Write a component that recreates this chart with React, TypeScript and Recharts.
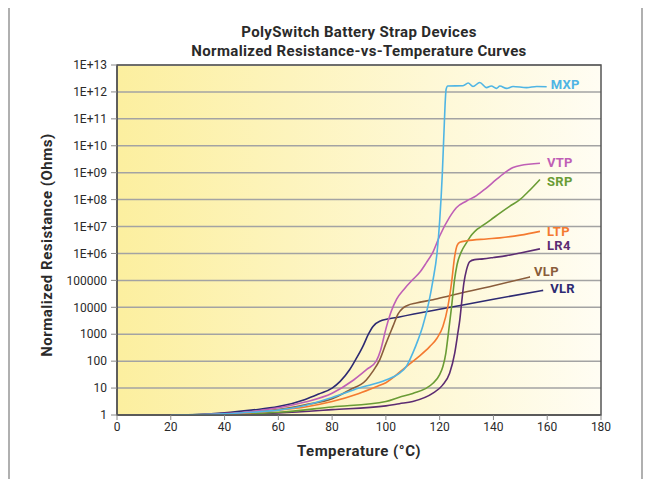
import { LineChart, Line, XAxis, YAxis, CartesianGrid, ReferenceArea } from 'recharts';

// temperature (°C) and log10 of normalized resistance
const mxpTemp = [20, 40, 50, 60, 70, 80, 90, 100, 105, 107.6, 110, 112, 113.7, 116, 117.5, 119, 120, 121, 121.6, 122, 122.4, 123, 128.7, 130.6, 132.4, 134.9, 137.4, 139.2, 141.1, 142.4, 144.9, 147.3, 152.3, 156.1, 159.8];
const mxpExp = [0, 0.04, 0.1, 0.18, 0.35, 0.65, 1.0, 1.3, 1.55, 1.8, 2.3, 2.8, 3.3, 4.2, 5.0, 6.0, 7.2, 9.0, 10.5, 11.5, 12.1, 12.22, 12.23, 12.33, 12.2, 12.35, 12.16, 12.22, 12.13, 12.22, 12.13, 12.2, 12.16, 12.2, 12.19];

const vtpTemp = [20, 30, 40, 50, 60, 70, 80, 88, 93, 96.4, 98, 100, 102, 104, 107, 110, 112.6, 115, 117.5, 120, 123.7, 126.2, 130, 133.7, 137, 141.1, 144.9, 147.3, 150, 157.3];
const vtpExp = [0, 0.01, 0.05, 0.13, 0.27, 0.48, 0.81, 1.3, 1.7, 2.0, 2.4, 3.2, 3.85, 4.3, 4.7, 5.03, 5.3, 5.65, 6.05, 6.65, 7.35, 7.7, 7.95, 8.15, 8.4, 8.75, 9.05, 9.19, 9.27, 9.35];

const srpTemp = [20, 40, 60, 80, 100, 105, 110, 117.5, 120, 121.2, 122.3, 123.1, 124.4, 125.5, 126.5, 128, 130, 132, 134, 136.2, 139, 142.4, 146, 149.8, 153, 157.3];
const srpExp = [0, 0.02, 0.1, 0.3, 0.5, 0.66, 0.8, 1.18, 1.5, 1.8, 2.3, 2.92, 4.0, 5.0, 5.6, 6.05, 6.4, 6.7, 6.9, 7.05, 7.25, 7.5, 7.75, 8.0, 8.3, 8.75];

const ltpTemp = [20, 40, 50, 60, 70, 80, 90, 96.4, 100, 107.6, 112, 116.3, 119, 121.2, 123, 124.4, 125.6, 126.5, 127.5, 130, 137.4, 142.4, 150, 157.3];
const ltpExp = [0, 0.03, 0.09, 0.18, 0.3, 0.5, 0.8, 1.05, 1.2, 1.8, 2.15, 2.54, 2.85, 3.29, 4.0, 4.9, 5.9, 6.3, 6.42, 6.47, 6.54, 6.58, 6.68, 6.82];

const lr4Temp = [20, 40, 60, 80, 100, 105, 110, 117.5, 121, 123.7, 125.6, 126.7, 127.5, 128.2, 129, 130, 131.2, 133, 136.2, 140, 144.9, 150, 157.3];
const lr4Exp = [0, 0.02, 0.08, 0.2, 0.34, 0.42, 0.5, 0.81, 1.1, 1.55, 2.3, 3.0, 3.54, 4.2, 4.9, 5.4, 5.7, 5.77, 5.8, 5.85, 5.92, 6.02, 6.17];

const vlpTemp = [20, 40, 50, 60, 70, 80, 86.5, 92.7, 95, 97.7, 100, 102.6, 104.5, 106.3, 108, 111.3, 117.5, 123.7, 140, 153.6];
const vlpExp = [0, 0.04, 0.1, 0.2, 0.38, 0.6, 0.93, 1.3, 1.6, 2.05, 2.65, 3.29, 3.75, 3.97, 4.07, 4.16, 4.28, 4.43, 4.8, 5.13];

const vlrTemp = [20, 30, 40, 50, 60, 70, 75, 80, 83, 86.5, 89, 91.4, 93.5, 95.2, 97.7, 105, 124, 140, 158.5];
const vlrExp = [0, 0.02, 0.08, 0.18, 0.31, 0.58, 0.78, 1.0, 1.25, 1.68, 2.1, 2.54, 3.0, 3.29, 3.48, 3.64, 4.0, 4.3, 4.63];

const xTicks = [0, 20, 40, 60, 80, 100, 120, 140, 160, 180];
const yExps = [0, 1, 2, 3, 4, 5, 6, 7, 8, 9, 10, 11, 12, 13];

const toPoints = (temps: number[], exps: number[]) =>
  temps.map((t, i) => ({ t, r: Math.pow(10, exps[i]) }));

const SERIES = [
  { name: 'VLR', color: '#2d2a72', data: toPoints(vlrTemp, vlrExp), dx: 7, dy: -2 },
  { name: 'VLP', color: '#8a5d3b', data: toPoints(vlpTemp, vlpExp), dx: 4, dy: -5 },
  { name: 'LR4', color: '#5c2c72', data: toPoints(lr4Temp, lr4Exp), dx: 7, dy: -3 },
  { name: 'SRP', color: '#6a9c35', data: toPoints(srpTemp, srpExp), dx: 7, dy: 2 },
  { name: 'LTP', color: '#f47a30', data: toPoints(ltpTemp, ltpExp), dx: 7, dy: 0 },
  { name: 'VTP', color: '#bf5fb6', data: toPoints(vtpTemp, vtpExp), dx: 7, dy: -1 },
  { name: 'MXP', color: '#4fb5e4', data: toPoints(mxpTemp, mxpExp), dx: 4, dy: -2 },
];

const yTicks = yExps.map((e) => Math.pow(10, e));

function formatY(v: number) {
  const e = Math.round(Math.log10(v));
  if (e < 6) return String(Math.round(v));
  return `1E+${e < 10 ? '0' + e : e}`;
}

function endLabel(name: string, color: string, last: number, dx: number, dy: number) {
  return (props: any) => {
    const { x, y, index } = props;
    if (index !== last) return <g />;
    return (
      <text x={x + dx} y={y + dy} fill={color} fontSize={13} fontWeight={700} letterSpacing={0.3} dominantBaseline="central">
        {name}
      </text>
    );
  };
}

const FONT = 'Roboto, "DejaVu Sans", sans-serif';
const AXIS_TITLE = { fontSize: 15, fontWeight: 700, color: '#2a2a2a', letterSpacing: 0.5 } as const;

export default function App() {
  return (
    <div style={{ position: 'relative', width: 636, height: 471, fontFamily: FONT }}>
      <div
        style={{
          position: 'absolute', left: 0, top: -2, width: 635, height: 480,
          border: '2px solid #b0b0b0', borderBottom: 'none', boxSizing: 'border-box',
        }}
      />
      <div style={{ position: 'absolute', left: 109, width: 484, top: 15, textAlign: 'center', fontSize: 15, fontWeight: 700, color: '#2a2a2a', letterSpacing: 0.35, lineHeight: '19px' }}>
        PolySwitch Battery Strap Devices
        <br />
        Normalized Resistance-vs-Temperature Curves
      </div>
      <div style={{ position: 'absolute', left: 109, width: 484, top: 434, textAlign: 'center', ...AXIS_TITLE }}>
        Temperature (°C)
      </div>
      <div style={{ position: 'absolute', left: 39, top: 237, width: 0, height: 0 }}>
        <div style={{ position: 'absolute', transform: 'translate(-50%, -50%) rotate(-90deg)', whiteSpace: 'nowrap', ...AXIS_TITLE }}>
          Normalized Resistance (Ohms)
        </div>
      </div>
      <LineChart width={636} height={471} margin={{ top: 57, right: 43, bottom: 34, left: 0 }} style={{ position: 'absolute', left: 0, top: 0 }}>
        <defs>
          <linearGradient id="plotBg" x1="0" y1="0" x2="1" y2="0">
            <stop offset="0%" stopColor="#fcef9f" />
            <stop offset="100%" stopColor="#fffdf3" />
          </linearGradient>
        </defs>
        <CartesianGrid vertical={false} stroke="#a3a3a3" strokeWidth={1.5} fill="url(#plotBg)" fillOpacity={1} />
        <XAxis
          dataKey="t"
          type="number"
          domain={[0, 180]}
          ticks={xTicks}
          allowDuplicatedCategory={false}
          tick={{ fill: '#2a2a2a', fontSize: 12 }}
          tickSize={5}
          tickLine={{ stroke: '#8a8a8a' }}
          axisLine={{ stroke: '#555', strokeWidth: 1.5 }}
        />
        <YAxis
          dataKey="r"
          scale="log"
          domain={[1, 1e13]}
          ticks={yTicks}
          allowDataOverflow
          width={109}
          tickFormatter={formatY}
          tick={{ fill: '#2a2a2a', fontSize: 12 }}
          tickSize={6}
          tickMargin={4}
          tickLine={{ stroke: '#8a8a8a' }}
          axisLine={{ stroke: '#555', strokeWidth: 1.5 }}
        />
        <ReferenceArea x1={0} x2={180} y1={1} y2={1e13} fill="none" stroke="#555" strokeWidth={1.5} />
        {SERIES.map((s) => (
          <Line
            key={s.name}
            data={s.data}
            dataKey="r"
            type="monotone"
            stroke={s.color}
            strokeWidth={1.6}
            dot={false}
            isAnimationActive={false}
            label={endLabel(s.name, s.color, s.data.length - 1, s.dx, s.dy)}
          />
        ))}
      </LineChart>
    </div>
  );
}
